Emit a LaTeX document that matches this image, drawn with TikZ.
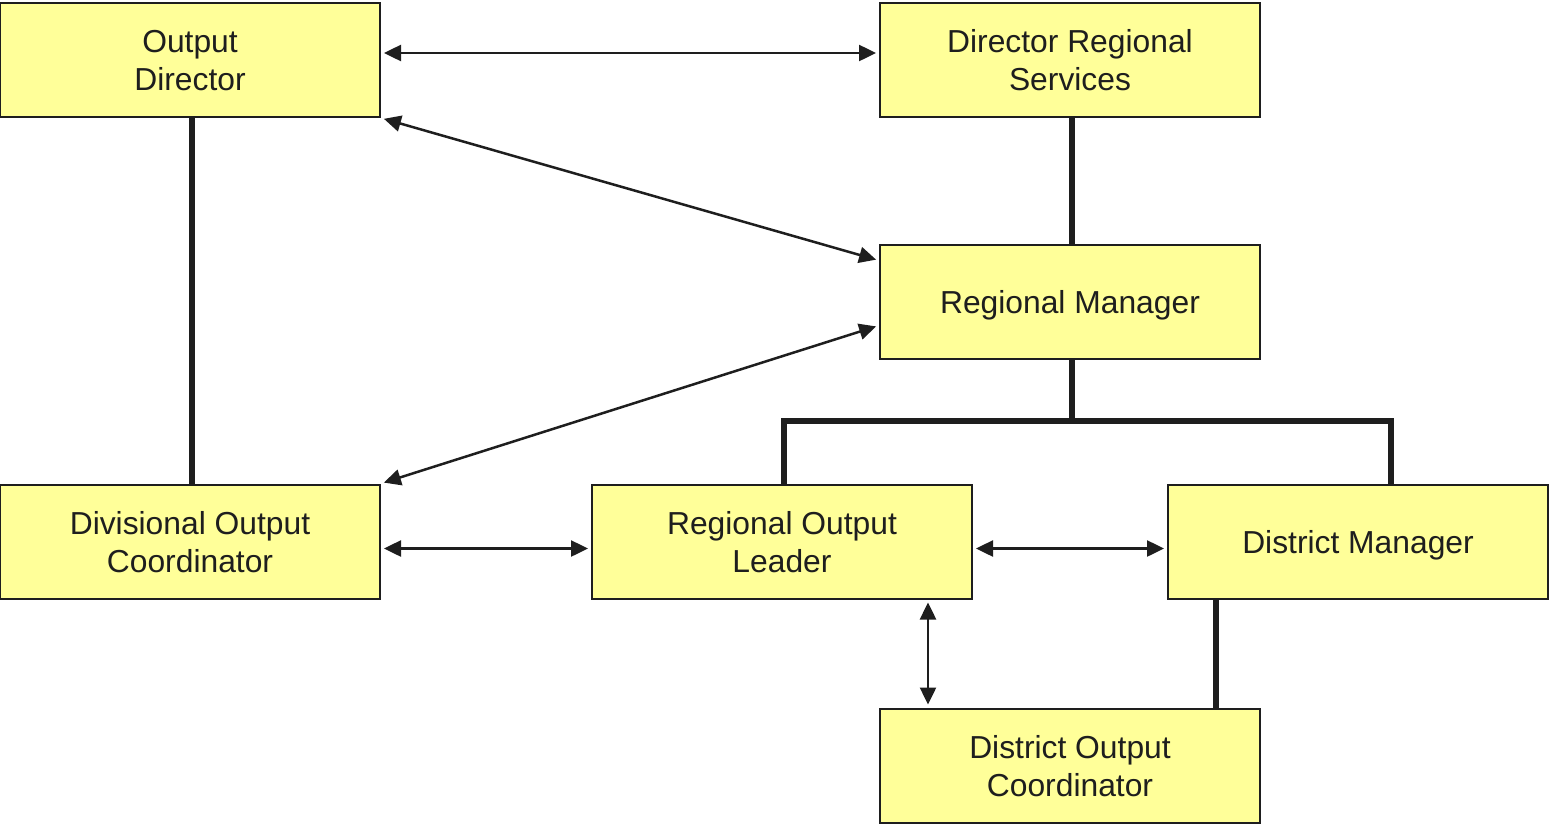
\documentclass[tikz,border=0pt]{standalone}
\usepackage{fontspec}
\setmainfont{Liberation Sans}
\usetikzlibrary{arrows.meta}
\definecolor{boxfill}{HTML}{FFFF99}
\definecolor{ink}{HTML}{1E1E1E}
\begin{document}
\begin{tikzpicture}[x=0.5pt,y=-0.5pt,
  box/.style={draw=ink, line width=1pt, fill=boxfill, minimum width=190pt, minimum height=57pt,
    inner sep=0pt, text depth=-2pt, align=center, text=ink, font=\fontsize{15.9}{19}\selectfont},
  arr/.style={draw=ink, line width=1.25pt, {Triangle[length=8.5pt,width=8pt]}-{Triangle[length=8.5pt,width=8pt]},
    shorten <=1.5pt, shorten >=1.5pt},
  tline/.style={draw=ink, line width=3pt, line join=miter}]
\useasboundingbox (0,0) rectangle (1549,825);
\node[box] (OD)  at (190,60)   {Output\\Director};
\node[box] (DRS) at (1070,60)  {Director Regional\\Services};
\node[box] (RM)  at (1070,301.5) {Regional Manager};
\node[box] (DOC) at (190,541.5)  {Divisional Output\\Coordinator};
\node[box] (ROL) at (782,541.5)  {Regional Output\\Leader};
\node[box] (DM)  at (1358,541.5) {District Manager};
\node[box] (DSC) at (1070,765.5) {District Output\\Coordinator};
\coordinate (bus) at (1072,421);
% thick hierarchy lines
\draw[tline] ([xshift=1pt]OD.south) -- ([xshift=1pt]DOC.north);
\draw[tline] ([xshift=1pt]DRS.south) -- ([xshift=1pt]RM.north);
\draw[tline] ([xshift=1pt]RM.south) -- (bus);
\draw[tline] ([xshift=1pt]ROL.north) |- (bus) -| ([xshift=16.5pt]DM.north);
\draw[tline] ([xshift=-71pt]DM.south) -- ([xshift=73pt]DSC.north);
% arrows
\draw[arr] ([yshift=3.5pt]OD.east) -- ([yshift=3.5pt]DRS.west);
\draw[arr] (OD.south east) -- ([yshift=20.5pt]RM.west);
\draw[arr] (DOC.north east) -- ([yshift=-12pt]RM.west);
\draw[arr] ([yshift=-3.5pt]DOC.east) -- ([yshift=-3.5pt]ROL.west);
\draw[arr] ([yshift=-3.5pt]ROL.east) -- ([yshift=-3.5pt]DM.west);
\draw[arr] ([xshift=73pt]ROL.south) -- ([xshift=-71pt]DSC.north);
\end{tikzpicture}
\end{document}
